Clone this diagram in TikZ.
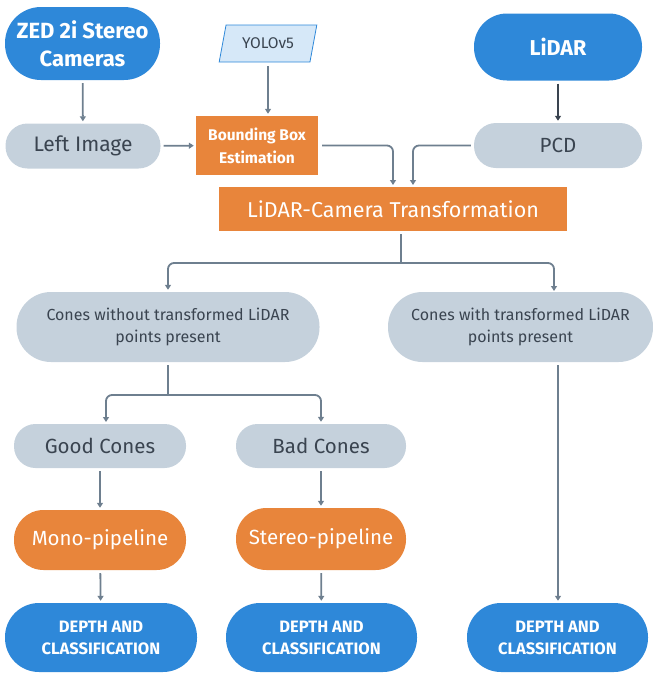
\documentclass[tikz,border=0pt]{standalone}
\usepackage{fontspec}
\setmainfont{Fira Sans}
\usetikzlibrary{shapes.geometric,arrows.meta}
\definecolor{cblue}{HTML}{2E88D9}
\definecolor{corange}{HTML}{E8853B}
\definecolor{cgrey}{HTML}{C5D1DC}
\definecolor{ctext}{HTML}{3A4450}
\definecolor{cline}{HTML}{6E7F8F}
\definecolor{cyolo}{HTML}{D6E8F8}
\tikzset{
  pill/.style args={#1/#2}{rectangle, rounded corners=#2/2-0.5pt, minimum width=#1, minimum height=#2, inner sep=0pt, align=center},
  bluepill/.style={pill=#1, fill=cblue, text=white, font=\bfseries},
  greypill/.style={pill=#1, fill=cgrey, text=ctext},
  orangepill/.style={pill=#1, fill=corange, text=white},
  orangebox/.style={rectangle, fill=corange, text=white, inner sep=0pt, align=center},
  conn/.style={draw=cline, line width=1.8pt, rounded corners=6pt, -{Triangle[width=6pt,length=5pt]}, shorten <=3pt, shorten >=2pt},
}
\begin{document}
\begin{tikzpicture}[x=1pt,y=-1pt]
\useasboundingbox (0,0) rectangle (653,675);
% nodes
\node[bluepill=155pt/73pt, font=\bfseries\fontsize{22}{28}\selectfont] (zed) at (82.5,43.5) {ZED 2i Stereo\\Cameras};
\node[trapezium, trapezium left angle=69, trapezium right angle=111, trapezium stretches=true, minimum width=98pt, minimum height=37pt, inner sep=0pt, fill=cyolo, draw=cblue, line width=0.8pt, text=ctext, font=\fontsize{15.5}{17}\selectfont] (yolo) at (268,43.5) {YOLOv5};
\node[bluepill=168pt/67pt, font=\bfseries\fontsize{21.5}{24}\selectfont] (lidar) at (558,47) {LiDAR};
\node[greypill=155pt/45pt, font=\fontsize{21}{24}\selectfont] (left) at (83,146) {Left Image};
\node[orangebox, minimum width=122pt, minimum height=59pt, font=\fontsize{15.5}{23}\selectfont\bfseries] (bb) at (257,145.5) {Bounding Box\\Estimation};
\node[greypill=168pt/45pt, font=\fontsize{20.5}{24}\selectfont] (pcd) at (558,145.5) {PCD};
\node[orangebox, minimum width=348pt, minimum height=44pt, font=\fontsize{21.5}{24}\selectfont] (trans) at (393,209) {LiDAR-Camera Transformation};
\node[greypill=303pt/70pt, font=\fontsize{16}{22}\selectfont] (cwo) at (168,327) {Cones without transformed LiDAR\\points present};
\node[greypill=265pt/70pt, font=\fontsize{16}{22}\selectfont] (cw) at (520.5,327) {Cones with transformed LiDAR\\points present};
\node[greypill=172pt/44pt, font=\fontsize{20.5}{24}\selectfont] (good) at (100,446) {Good Cones};
\node[greypill=170pt/44pt, font=\fontsize{20.5}{24}\selectfont] (bad) at (321,446) {Bad Cones};
\node[orangepill=172pt/60pt, font=\fontsize{20.5}{24}\selectfont] (mono) at (100,540) {Mono-pipeline};
\node[orangepill=170pt/62pt, font=\fontsize{20.5}{24}\selectfont] (stereo) at (321,539) {Stereo-pipeline};
\node[bluepill=192pt/69pt, font=\bfseries\fontsize{16.5}{22}\selectfont] (d1) at (101,637.5) {DEPTH AND\\CLASSIFICATION};
\node[bluepill=191pt/69pt, font=\bfseries\fontsize{16.5}{22}\selectfont] (d2) at (321.5,637.5) {DEPTH AND\\CLASSIFICATION};
\node[bluepill=181pt/69pt, font=\bfseries\fontsize{16.5}{22}\selectfont] (d3) at (557.5,637.5) {DEPTH AND\\CLASSIFICATION};
% helper coordinates
\coordinate (tin1) at (393,187);
\coordinate (tin2) at (413,187);
\coordinate (tout) at (401,231);
\coordinate (tsplit) at (401,263);
\coordinate (cwin) at (554,293);
\coordinate (cwout) at (558,362);
\coordinate (gin) at (106,424);
\coordinate (csplit) at (168,395);
% connectors
\draw[conn] (zed) -- (left);
\draw[conn, shorten <=4pt] (yolo.south) -- (yolo.south |- bb.north);
\draw[conn, draw=ctext] (lidar) -- (pcd);
\draw[conn] (left) -- (bb);
\draw[conn, shorten <=4pt] (bb.east) -| (tin1);
\draw[conn] (pcd.west) -| (tin2);
\draw[conn, -, shorten >=0pt] (tout) -- (tsplit);
\draw[conn, shorten <=0pt] (tsplit) -| (cwo.north);
\draw[conn, shorten <=0pt] (tsplit) -| (cwin);
\draw[conn, -, shorten >=0pt] (cwo.south) -- (csplit);
\draw[conn, shorten <=0pt] (csplit) -| (gin);
\draw[conn, shorten <=0pt] (csplit) -| (bad.north);
\draw[conn] (cwout) -- (cwout |- d3.north);
\draw[conn] (good) -- (mono);
\draw[conn] (mono) -- (d1);
\draw[conn] (bad) -- (stereo);
\draw[conn] (stereo) -- (d2);
\end{tikzpicture}
\end{document}
